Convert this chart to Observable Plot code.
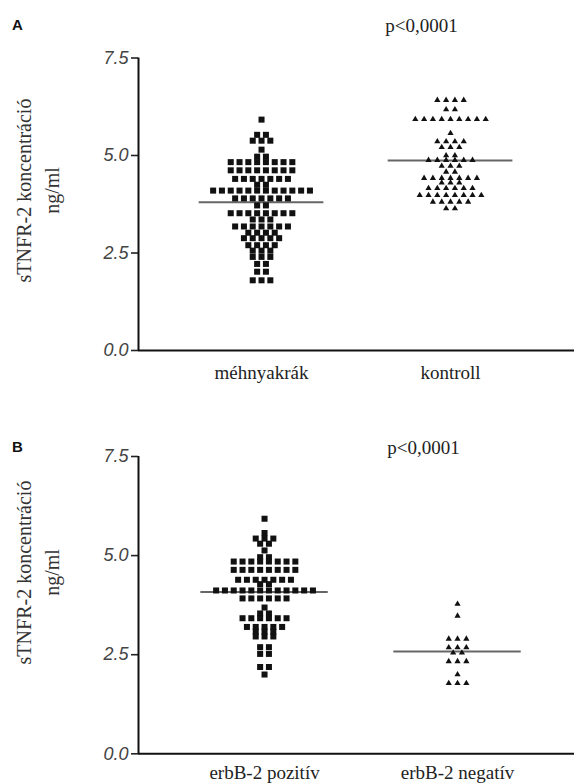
<!DOCTYPE html>
<html>
<head>
<meta charset="utf-8">
<script src="https://cdn.jsdelivr.net/npm/d3@7"></script>
<script src="https://cdn.jsdelivr.net/npm/@observablehq/plot@0.6"></script>
<style>
  body { margin: 0; background: #fff; }
  #chart { width: 574px; }
  #chart svg { display: block; background: #fff; }
</style>
</head>
<body>
<div id="chart"></div>
<script>
// ---- shared texts / ticks ----
const yTitle = "sTNFR-2 koncentráció";
const yUnit = "ng/ml";
const pText = "p<0,0001";
const yTicks = [0, 2.5, 5, 7.5];

// ---- Panel A ----
const panelA_label = "A";
const panelA_categories = ["méhnyakrák", "kontroll"];
const panelA_medians = [3.80, 4.87];
const mehnyakrak = [
  5.92,
  5.53, 5.53,
  5.38, 5.38, 5.38,
  5.15,
  4.97, 4.97,
  4.83, 4.83, 4.83, 4.83, 4.83, 4.83, 4.83, 4.83,
  4.62, 4.62, 4.62, 4.62, 4.62, 4.62, 4.62, 4.62,
  4.40, 4.40, 4.40, 4.40, 4.40, 4.40, 4.40,
  4.25, 4.25,
  4.10, 4.10, 4.10, 4.10, 4.10, 4.10, 4.10, 4.10, 4.10, 4.10, 4.10, 4.10,
  3.90, 3.90, 3.90, 3.90, 3.90, 3.90, 3.90,
  3.72, 3.72,
  3.52, 3.52, 3.52, 3.52, 3.52, 3.52, 3.52, 3.52,
  3.36, 3.36, 3.36,
  3.18, 3.18, 3.18, 3.18, 3.18, 3.18, 3.18,
  3.02, 3.02, 3.02, 3.02,
  2.88, 2.88, 2.88, 2.88, 2.88,
  2.70, 2.70, 2.70, 2.70,
  2.56, 2.56, 2.56,
  2.40, 2.40, 2.40,
  2.22, 2.22,
  2.02, 2.02,
  1.80, 1.80, 1.80
];
const kontroll = [
  6.42, 6.42, 6.42, 6.42,
  6.18, 6.18,
  5.93, 5.93, 5.93, 5.93, 5.93, 5.93, 5.93, 5.93, 5.93,
  5.57,
  5.36, 5.36, 5.36, 5.36,
  5.21, 5.21, 5.21,
  5.00, 5.00,
  4.88, 4.88, 4.88, 4.88, 4.88, 4.88,
  4.73, 4.73, 4.73,
  4.58, 4.58,
  4.42, 4.42, 4.42, 4.42, 4.42, 4.42, 4.42,
  4.30, 4.30, 4.30,
  4.16, 4.16, 4.16, 4.16, 4.16, 4.16,
  3.98, 3.98, 3.98, 3.98, 3.98, 3.98, 3.98, 3.98,
  3.81, 3.81, 3.81, 3.81, 3.81,
  3.64, 3.64
];

// ---- Panel B ----
const panelB_label = "B";
const panelB_categories = ["erbB-2 pozitív", "erbB-2 negatív"];
const panelB_medians = [4.08, 2.58];
const erbB2_pozitiv = [
  5.93,
  5.57,
  5.43, 5.43, 5.43,
  5.30, 5.30,
  5.13,
  4.96, 4.96,
  4.85, 4.85, 4.85, 4.85, 4.85, 4.85, 4.85, 4.85,
  4.64, 4.64, 4.64, 4.64, 4.64, 4.64, 4.64, 4.64,
  4.39, 4.39, 4.39, 4.39, 4.39, 4.39, 4.39,
  4.28, 4.28,
  4.12, 4.12, 4.12, 4.12, 4.12, 4.12, 4.12, 4.12, 4.12, 4.12, 4.12, 4.12,
  3.92, 3.92, 3.92, 3.92, 3.92, 3.92,
  3.69,
  3.54, 3.54,
  3.42, 3.42, 3.42, 3.42, 3.42, 3.42,
  3.20, 3.20, 3.20, 3.20, 3.20,
  3.08, 3.08, 3.08,
  2.96, 2.96, 2.96,
  2.69, 2.69,
  2.52, 2.52,
  2.19, 2.19,
  2.00
];
const erbB2_negativ = [
  3.78,
  3.48,
  2.90, 2.90, 2.90,
  2.68, 2.68, 2.68,
  2.55, 2.55,
  2.33, 2.33, 2.33,
  2.00,
  1.78, 1.78, 1.78
];

// Prism-style column scatter: equal values share a row, centred on the column
function swarm(values, cat, slot) {
  const out = [];
  for (const [v, arr] of d3.group(values, d => d)) {
    const n = arr.length;
    arr.forEach((_, i) => out.push({x: cat + (i - (n - 1) / 2) * slot, y: v}));
  }
  return out;
}

const serif = "'Liberation Serif', 'Times New Roman', serif";
const sans = "'Liberation Sans', Arial, sans-serif";

function panel({label, categories, medians, groups, height, marginTop, marginBottom, xDomain,
                titleDy, labelDy, pDx, catDy}) {
  const width = 574, marginLeft = 138, marginRight = 0;
  const pxPerUnit = (width - marginLeft - marginRight) / (xDomain[1] - xDomain[0]);
  const slot = 8.8 / pxPerUnit;
  const squares = swarm(groups[0], 0, slot);
  const triangles = swarm(groups[1], 1, slot);
  return Plot.plot({
    width, height, marginLeft, marginRight, marginTop, marginBottom,
    style: {background: "#fff"},
    x: {domain: xDomain, axis: null},
    y: {domain: [0, 7.5]},
    marks: [
      Plot.axisY({
        ticks: yTicks, tickFormat: d3.format(".1f"), tickSize: 7, tickPadding: 3,
        fontSize: 18, fontStyle: "italic", fontFamily: sans,
        stroke: "#222", fill: "#444", strokeWidth: 1.6, label: null
      }),
      Plot.ruleX([xDomain[0]], {y1: 0, y2: 7.5, stroke: "#111", strokeWidth: 2}),
      Plot.ruleY([0], {stroke: "#111", strokeWidth: 2}),
      Plot.ruleY(medians, {y: d => d, x1: (d, i) => i - 0.33, x2: (d, i) => i + 0.33,
                           stroke: "#666", strokeWidth: 2}),
      Plot.dot(squares, {x: "x", y: "y", symbol: "square", r: 3.4, fill: "#111", stroke: "none"}),
      Plot.dot(triangles, {x: "x", y: "y", symbol: "triangle", r: 2.3, fill: "#111", stroke: "none"}),
      Plot.text(categories, {x: (d, i) => i, y: 0, text: d => d, dy: catDy, lineAnchor: "middle",
                             fontFamily: serif, fontSize: 19, fill: "#222"}),
      Plot.text([yTitle], {frameAnchor: "left", rotate: -90, dx: 24 - marginLeft, dy: titleDy,
                           textAnchor: "middle", lineAnchor: "middle",
                           fontFamily: serif, fontSize: 20, fill: "#333"}),
      Plot.text([yUnit], {frameAnchor: "left", rotate: -90, dx: 52 - marginLeft, dy: titleDy,
                          textAnchor: "middle", lineAnchor: "middle",
                          fontFamily: serif, fontSize: 20, fill: "#333"}),
      Plot.text([label], {frameAnchor: "top-left", dx: 17 - marginLeft, dy: labelDy,
                          textAnchor: "middle", lineAnchor: "middle",
                          fontFamily: sans, fontWeight: 700, fontSize: 15, fill: "#111"}),
      Plot.text([pText], {frameAnchor: "top", dx: pDx, dy: labelDy,
                          textAnchor: "middle", lineAnchor: "middle",
                          fontFamily: serif, fontSize: 19, fill: "#222"})
    ]
  });
}

const chart = document.getElementById("chart");
chart.append(panel({
  label: panelA_label, categories: panelA_categories, medians: panelA_medians,
  groups: [mehnyakrak, kontroll],
  height: 385, marginTop: 57.5, marginBottom: 35, xDomain: [-0.651, 1.656],
  titleDy: 190 - (57.5 + 350) / 2, labelDy: 25 - 57.5, pDx: 421 - 356, catDy: 22
}));
chart.append(panel({
  label: panelB_label, categories: panelB_categories, medians: panelB_medians,
  groups: [erbB2_pozitiv, erbB2_negativ],
  height: 399, marginTop: 71, marginBottom: 30.7, xDomain: [-0.653, 1.606],
  titleDy: 187 - (71 + 368.3) / 2, labelDy: 62 - 71, pDx: 423 - 356, catDy: 19
}));
</script>
</body>
</html>
